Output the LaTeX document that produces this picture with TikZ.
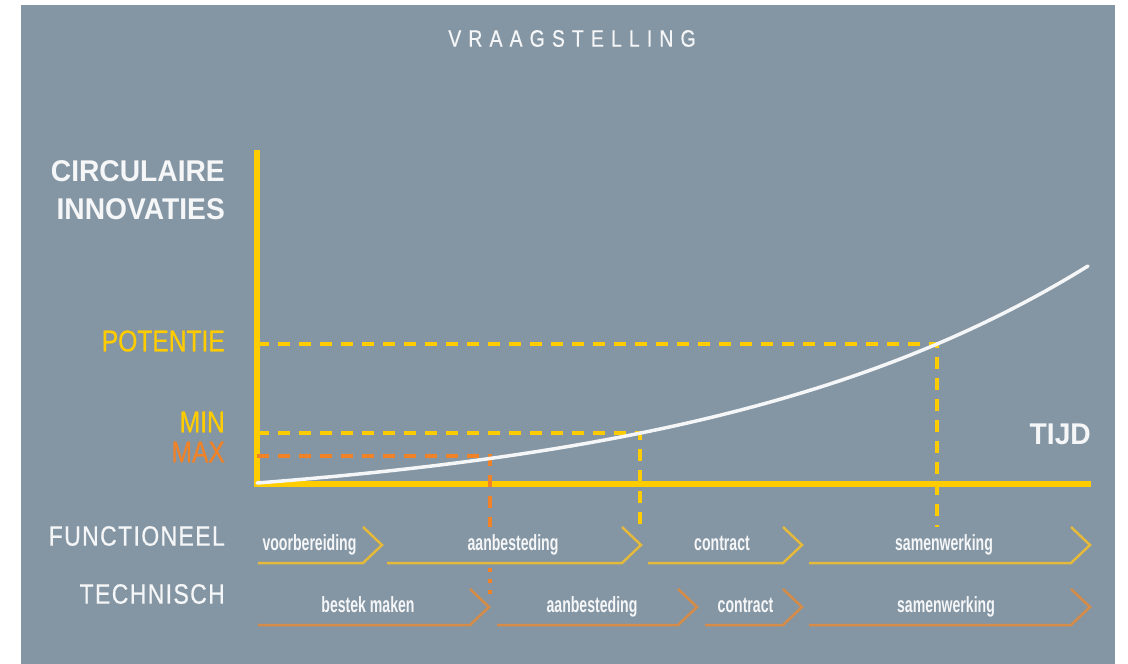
\documentclass[tikz,border=0pt]{standalone}
\usepackage{fontspec}
\setmainfont{Liberation Sans}
\newfontfamily\kopfont[FakeStretch=0.94]{Liberation Sans}
\newfontfamily\smalfont[FakeStretch=0.82, FakeBold=0.6]{Liberation Sans}
\newfontfamily\fasefont[FakeStretch=0.64]{Liberation Sans}
\definecolor{paneel}{RGB}{132,149,163}
\definecolor{asgeel}{RGB}{255,204,0}
\definecolor{stiporanje}{RGB}{240,130,40}
\definecolor{fasegeel}{RGB}{229,185,58}
\definecolor{faseoranje}{RGB}{214,140,70}
\definecolor{wit}{RGB}{245,246,247}
\tikzset{
  as/.style={draw=asgeel, line width=6pt},
  stippel/.style={line width=4.5pt, dash pattern=on 12pt off 9pt},
  fase/.style={line width=2.5pt, line join=miter},
  kop/.style={inner sep=0pt, text=wit, font=\kopfont\bfseries\fontsize{30}{38}\selectfont},
  label/.style={inner sep=0pt, anchor=east, font=\smalfont\fontsize{30}{30}\selectfont},
  rij/.style={inner sep=0pt, anchor=east, text=wit, font=\smalfont\addfontfeature{LetterSpace=5}\fontsize{28}{28}\selectfont},
  fasetekst/.style={inner sep=0pt, anchor=base, text=wit, font=\fasefont\bfseries\fontsize{22}{22}\selectfont}
}

\begin{document}
\begin{tikzpicture}[x=1pt, y=-1pt]
     \useasboundingbox (0,0) rectangle (1128,664);
     \fill[paneel] (21,5) rectangle (1115,664);
     \node[inner sep=0pt, text=wit, font=\smalfont\addfontfeature{LetterSpace=30}\fontsize{23.7}{24}\selectfont] (vraag) at (572,38.5) {VRAAGSTELLING};
     \node[kop, anchor=north east, align=right] (innovaties) at (225,160) {CIRCULAIRE\\INNOVATIES};
     \node[kop, anchor=east] (tijd) at (1091,434.5) {TIJD};
     \node[label, text=asgeel] (potentie) at (225,341) {POTENTIE};
     \node[label, text=asgeel] (min) at (225,422) {MIN};
     \node[label, text=stiporanje] (max) at (225,452) {MAX};
     \node[rij] (functioneel) at (225,536) {FUNCTIONEEL};
     \node[rij] (technisch) at (225,594) {TECHNISCH};
     \coordinate (oorsprong) at (257,484);
     \coordinate (ytop) at (257,150);
     \coordinate (xeind) at (1091,484);
     \coordinate (ppot) at (937,344);
     \coordinate (pmin) at (640,433);
     \coordinate (pmax) at (490,456);
     \draw[as] (ytop) -- (257,487);
     \draw[as] (254,484) -- (xeind);
     \draw[stippel, asgeel] (ppot -| oorsprong) -- (ppot) -- (937,527);
     \draw[stippel, asgeel] (pmin -| oorsprong) -- (pmin) -- (640,527);
     \draw[stippel, stiporanje] (pmax -| oorsprong) -- (pmax) -- (490,527);
     \draw[stiporanje, line width=4pt, dash pattern=on 4pt off 7pt] (490,568) -- (490,596);
     \draw[wit, line width=3.5pt, line cap=round] plot[domain=0:831, samples=80] ({257+\x}, {483-31*(exp(0.0025*\x)-1)});
     \draw[fase, fasegeel] (258,563) -- (363,563) -- (382,545) -- (363,527);
     \draw[fase, fasegeel] (387,563) -- (622,563) -- (641,545) -- (622,527);
     \draw[fase, fasegeel] (648,563) -- (783,563) -- (802,545) -- (783,527);
     \draw[fase, fasegeel] (809,563) -- (1071,563) -- (1090,545) -- (1071,527);
     \draw[fase, faseoranje] (258,625) -- (470,625) -- (489,607) -- (470,589);
     \draw[fase, faseoranje] (497,625) -- (678,625) -- (697,607) -- (678,589);
     \draw[fase, faseoranje] (705,625) -- (783,625) -- (802,607) -- (783,589);
     \draw[fase, faseoranje] (809,625) -- (1071,625) -- (1090,607) -- (1071,589);
     \node[fasetekst] (f1) at (309.5,550) {voorbereiding};
     \node[fasetekst] (f2) at (513,550) {aanbesteding};
     \node[fasetekst] (f3) at (722,550) {contract};
     \node[fasetekst] (f4) at (944,550) {samenwerking};
     \node[fasetekst] (t1) at (368,612) {bestek maken};
     \node[fasetekst] (t2) at (592,612) {aanbesteding};
     \node[fasetekst] (t3) at (745.5,612) {contract};
     \node[fasetekst] (t4) at (946,612) {samenwerking};
\end{tikzpicture}
\end{document}
